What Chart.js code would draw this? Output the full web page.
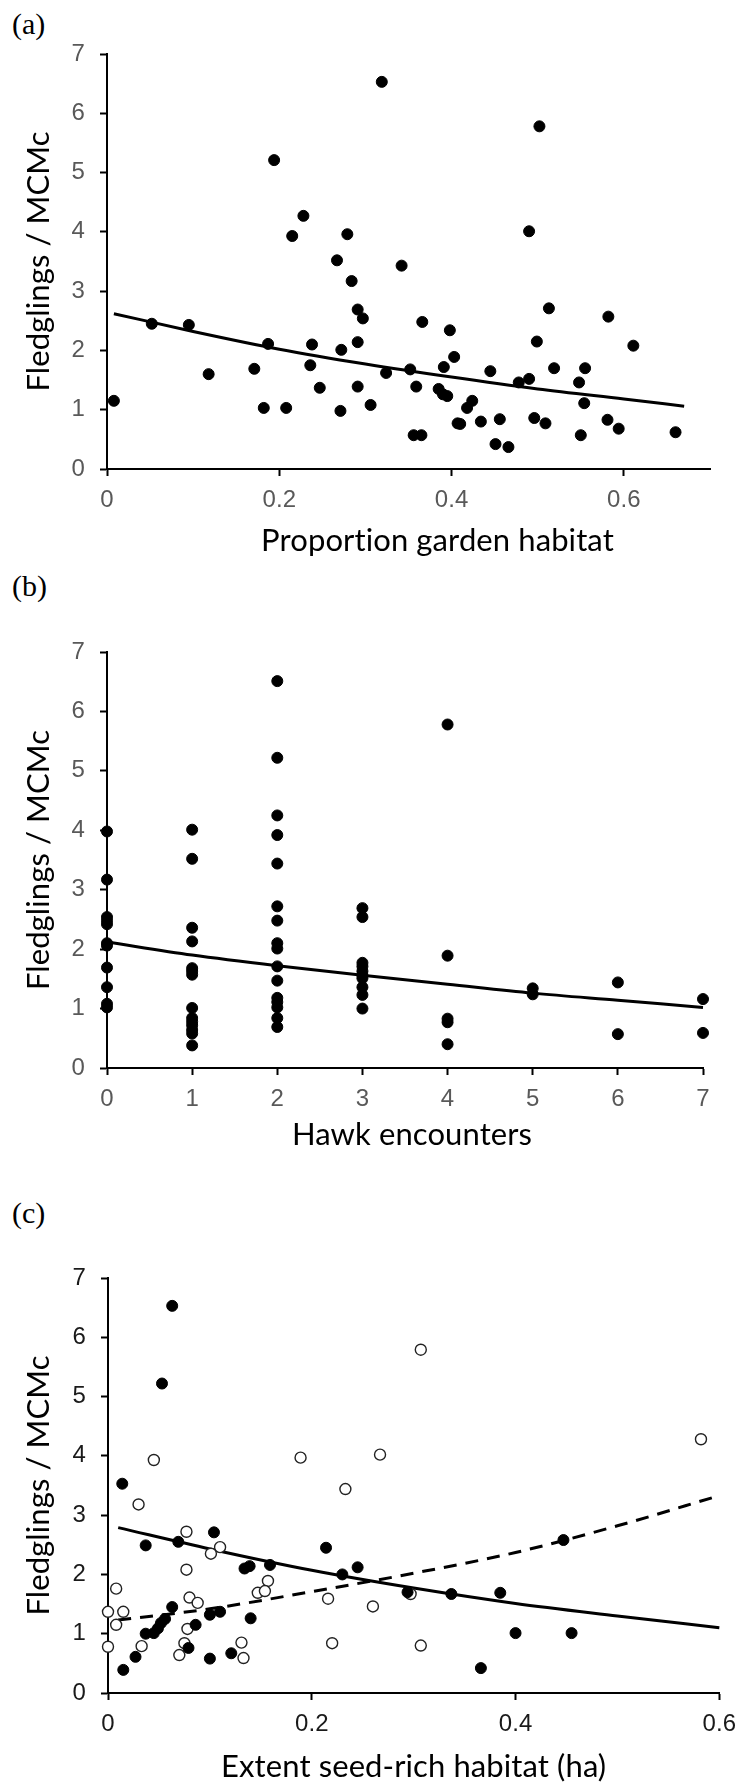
<!DOCTYPE html>
<html>
<head>
<meta charset="utf-8">
<script src="https://cdn.jsdelivr.net/npm/chart.js@4"></script>
<style>
  body { margin: 0; background: #fff; }
  #page { position: relative; width: 746px; height: 1786px; overflow: hidden; }
  #page canvas { position: absolute; left: 0; }
  .tag { position: absolute; left: 12px; font: 30px "Liberation Serif", "DejaVu Serif", serif; line-height: 30px; color: #000; }
</style>
</head>
<body>
<div id="page">
  <div class="tag" style="top:9px">(a)</div>
  <div class="tag" style="top:571px">(b)</div>
  <div class="tag" style="top:1198px">(c)</div>
  <canvas id="chartA" width="746" height="600" style="top:0px"></canvas>
  <canvas id="chartB" width="746" height="560" style="top:600px"></canvas>
  <canvas id="chartC" width="746" height="626" style="top:1160px"></canvas>
</div>
<script>
// (a) proportion garden habitat vs fledglings
const aGarden = [0.008,0.052,0.095,0.118,0.171,0.182,0.187,0.194,0.208,0.215,
  0.228,0.236,0.238,0.247,0.267,0.271,0.272,0.279,0.284,0.291,
  0.291,0.291,0.297,0.306,0.319,0.324,0.342,0.352,0.356,0.359,
  0.365,0.366,0.385,0.390,0.391,0.395,0.398,0.403,0.407,0.410,
  0.418,0.424,0.434,0.445,0.451,0.456,0.466,0.478,0.490,0.490,
  0.496,0.499,0.502,0.509,0.513,0.519,0.548,0.550,0.554,0.555,
  0.582,0.581,0.594,0.611,0.660];
const aFledge = [1.15,2.45,2.43,1.60,1.69,1.03,2.11,5.21,1.03,3.93,
  4.27,1.75,2.10,1.37,3.52,0.98,2.01,3.96,3.17,2.69,
  2.14,1.39,2.54,1.08,6.53,1.62,3.43,1.68,0.57,1.39,
  0.57,2.48,1.35,1.26,1.72,1.23,2.34,1.89,0.77,0.76,
  1.03,1.15,0.80,1.65,0.42,0.84,0.37,1.46,4.01,1.52,
  0.86,2.15,5.78,0.77,2.71,1.70,1.46,0.57,1.11,1.70,
  2.57,0.83,0.68,2.08,0.62];
const aFitX = [0.008,0.1,0.2,0.3,0.4,0.5,0.6,0.67];
const aFitY = [2.62,2.32,2.02,1.77,1.55,1.35,1.18,1.06];

// (b) hawk encounters vs fledglings
const bHawk = [0,0,0,0,0,0,0,0,0,0,0,
  1,1,1,1,1,1,1,1,1,1,1,1,1,1,
  2,2,2,2,2,2,2,2,2,2,2,2,2,2,2,2,
  3,3,3,3,3,3,3,3,3,3,
  4,4,4,4,4,
  5,5,
  6,6,
  7,7];
const bFledge = [3.98,3.17,2.54,2.48,2.42,2.10,2.06,1.69,1.36,1.08,1.02,
  4.01,3.52,2.36,2.13,1.68,1.63,1.57,1.01,0.84,0.78,0.72,0.64,0.58,0.38,
  6.51,5.22,4.25,3.92,3.44,2.72,2.48,2.10,2.01,1.71,1.47,1.18,1.11,1.02,0.84,0.69,
  2.69,2.54,1.77,1.71,1.63,1.56,1.51,1.36,1.23,1.00,
  5.78,1.89,0.83,0.77,0.40,
  1.34,1.24,
  1.44,0.57,
  1.16,0.59];
const bFitX = [0,1,2,3,4,5,6,7];
const bFitY = [2.12,1.90,1.72,1.56,1.41,1.26,1.14,1.02];

// (c) extent seed-rich habitat: filled and open groups
const cSeedFilled = [0.063,0.053,0.014,0.037,0.069,0.104,0.134,0.139,0.159,0.214,
  0.230,0.245,0.294,0.337,0.385,0.447,0.400,0.455,0.366,0.015,
  0.027,0.037,0.045,0.049,0.052,0.056,0.063,0.079,0.086,0.100,
  0.110,0.140,0.100,0.121];
const cFledgeFilled = [6.53,5.22,3.53,2.49,2.55,2.71,2.10,2.14,2.16,2.45,
  2.00,2.12,1.70,1.67,1.69,2.58,1.01,1.01,0.42,0.39,
  0.61,1.00,1.01,1.09,1.18,1.25,1.45,0.76,1.15,1.32,
  1.37,1.26,0.58,0.67];
const cSeedOpen = [0.307,0.045,0.189,0.267,0.582,0.233,0.030,0.077,0.110,0.101,
  0.077,0.008,0.157,0.147,0.154,0.080,0.088,0.000,0.015,0.008,
  0.216,0.260,0.297,0.078,0.000,0.033,0.075,0.070,0.131,0.133,
  0.220,0.307];
const cFledgeOpen = [5.79,3.93,3.97,4.02,4.28,3.44,3.18,2.72,2.46,2.35,
  2.08,1.76,1.89,1.69,1.72,1.61,1.52,1.37,1.37,1.15,
  1.59,1.46,1.67,1.08,0.78,0.79,0.84,0.64,0.85,0.59,
  0.84,0.80];
const cFitX = [0.01,0.1,0.2,0.3,0.4,0.5,0.6];
const cFitSolid = [2.79,2.43,2.07,1.77,1.51,1.30,1.10];
const cFitDashed = [1.23,1.42,1.71,2.02,2.37,2.82,3.33];

const yTicks = [0,1,2,3,4,5,6,7];

const tickFont = { family: '"Liberation Sans", Arial, sans-serif', size: 24 };
const titleFont = { family: 'Lato, "Open Sans", sans-serif', size: 31 };

// tiny letter spacing switches off Lato's "ti" ligature
const noLigatures = {
  id: 'noLigatures',
  beforeDraw: chart => { chart.ctx.letterSpacing = '0.1px'; }
};

function pts(xs, ys) {
  return xs.map((x, i) => ({ x: x, y: ys[i] }));
}

function dots(xs, ys, open) {
  return {
    data: pts(xs, ys),
    showLine: false,
    pointRadius: 5.5,
    pointHoverRadius: 5.5,
    pointBackgroundColor: open ? '#fff' : '#000',
    pointBorderColor: open ? '#222' : '#000',
    pointBorderWidth: open ? 1.4 : 1,
    clip: false
  };
}

function fit(xs, ys, dash) {
  return {
    data: pts(xs, ys),
    showLine: true,
    borderColor: '#000',
    borderWidth: 3,
    borderDash: dash || [],
    pointRadius: 0,
    pointHoverRadius: 0,
    fill: false,
    tension: 0.4,
    cubicInterpolationMode: 'monotone',
    clip: false
  };
}

function panel(id, cfg) {
  const chart = new Chart(document.getElementById(id), {
    type: 'scatter',
    data: { datasets: cfg.datasets },
    plugins: [noLigatures],
    options: {
      responsive: false,
      animation: false,
      events: [],
      layout: { padding: { left: 0, top: cfg.top, right: cfg.right, bottom: 0 } },
      plugins: { legend: { display: false }, tooltip: { enabled: false } },
      scales: {
        x: {
          type: 'linear',
          min: cfg.xMin,
          max: cfg.xMax,
          afterFit: s => { s.height = cfg.xHeight; },
          border: { display: true, color: '#000', width: 2 },
          grid: { display: true, drawOnChartArea: false, drawTicks: true, tickLength: 7, tickWidth: 2, tickColor: '#000' },
          ticks: {
            stepSize: cfg.xStep,
            includeBounds: false,
            autoSkip: false,
            maxRotation: 0,
            padding: 10,
            color: cfg.tickColor,
            font: tickFont
          },
          title: { display: true, text: cfg.xTitle, color: '#000', font: titleFont, padding: { top: 0, bottom: cfg.xTitlePad } }
        },
        y: {
          type: 'linear',
          min: 0,
          max: 7,
          afterFit: s => { s.width = cfg.left; },
          afterBuildTicks: s => { s.ticks = yTicks.map(v => ({ value: v })); },
          border: { display: true, color: '#000', width: 2 },
          grid: { display: true, drawOnChartArea: false, drawTicks: true, tickLength: 7, tickWidth: 2, tickColor: '#000' },
          ticks: { padding: 15, color: cfg.tickColor, font: tickFont },
          title: { display: true, text: 'Fledglings / MCMc', color: '#000', font: titleFont, padding: { top: 20, bottom: 0 } }
        }
      }
    }
  });
  if (cfg.titleShift) {
    // the x title sits right of the plot centre in the original
    const sx = chart.scales.x;
    const orig = sx.drawTitle;
    sx.drawTitle = function () {
      this.ctx.save();
      this.ctx.translate(cfg.titleShift, 0);
      orig.call(this);
      this.ctx.restore();
    };
    chart.draw();
  }
  return chart;
}

panel('chartA', {
  top: 54, right: 36, left: 107, xHeight: 131, xTitlePad: 40, titleShift: 29,
  xMin: 0, xMax: 0.7, xStep: 0.2,
  tickColor: '#595959',
  xTitle: 'Proportion garden habitat',
  datasets: [dots(aGarden, aFledge, false), fit(aFitX, aFitY)]
});

panel('chartB', {
  top: 52, right: 43, left: 107, xHeight: 92, xTitlePad: 6, titleShift: 7,
  xMin: 0, xMax: 7, xStep: 1,
  tickColor: '#595959',
  xTitle: 'Hawk encounters',
  datasets: [dots(bHawk, bFledge, false), fit(bFitX, bFitY)]
});

panel('chartC', {
  top: 118, right: 24, left: 108, xHeight: 93, xTitlePad: 0,
  xMin: 0, xMax: 0.6, xStep: 0.2,
  tickColor: '#1a1a1a',
  xTitle: 'Extent seed-rich habitat (ha)',
  datasets: [
    dots(cSeedFilled, cFledgeFilled, false),
    dots(cSeedOpen, cFledgeOpen, true),
    fit(cFitX, cFitSolid),
    fit(cFitX, cFitDashed, [13, 9])
  ]
});
</script>
</body>
</html>
